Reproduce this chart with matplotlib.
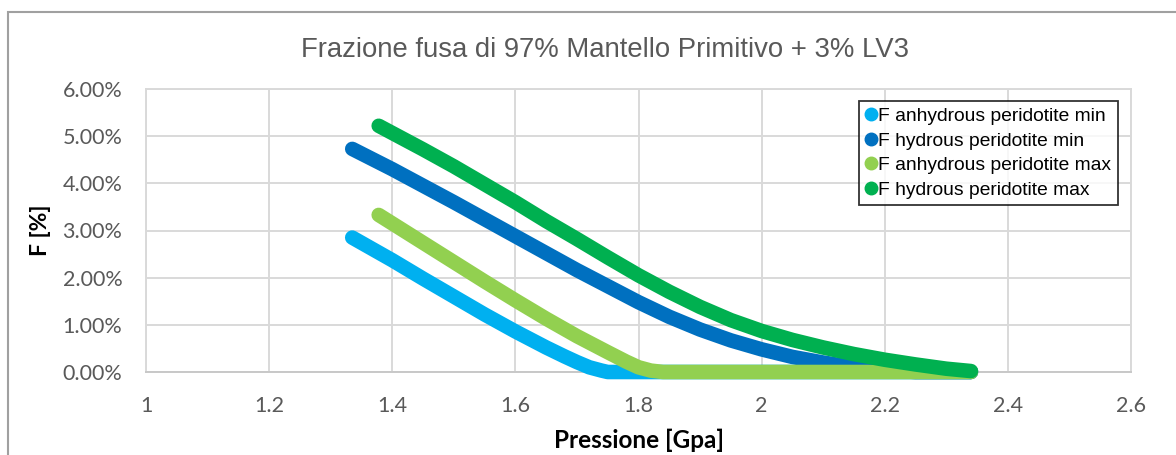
import matplotlib
matplotlib.use("Agg")
import matplotlib.pyplot as plt
from matplotlib.lines import Line2D
from matplotlib.patches import Rectangle

# Pressure [GPa] and melt fraction [%] for each peridotite case
p_anhy_min = [1.335, 1.40, 1.45, 1.50, 1.55, 1.60, 1.65, 1.68, 1.70, 1.72, 1.74, 1.75, 2.00, 2.34]
f_anhy_min = [2.85, 2.37, 1.98, 1.60, 1.22, 0.86, 0.52, 0.33, 0.21, 0.10, 0.03, 0.00, 0.00, 0.00]

p_hy_min = [1.335, 1.40, 1.45, 1.50, 1.55, 1.60, 1.65, 1.70, 1.75, 1.80, 1.85, 1.90,
            1.95, 2.00, 2.05, 2.10, 2.15, 2.20, 2.25, 2.34]
f_hy_min = [4.73, 4.30, 3.95, 3.60, 3.24, 2.88, 2.52, 2.16, 1.82, 1.48, 1.17, 0.90,
            0.67, 0.48, 0.32, 0.20, 0.10, 0.04, 0.00, 0.00]

p_anhy_max = [1.378, 1.40, 1.45, 1.50, 1.55, 1.60, 1.65, 1.70, 1.75, 1.78, 1.80, 1.82,
              1.84, 2.00, 2.34]
f_anhy_max = [3.33, 3.15, 2.74, 2.33, 1.92, 1.52, 1.13, 0.76, 0.42, 0.22, 0.10, 0.03,
              0.00, 0.00, 0.00]

p_hy_max = [1.378, 1.45, 1.50, 1.55, 1.60, 1.65, 1.70, 1.75, 1.80, 1.85, 1.90, 1.95,
            2.00, 2.05, 2.10, 2.15, 2.20, 2.25, 2.30, 2.34]
f_hy_max = [5.22, 4.72, 4.36, 3.98, 3.60, 3.20, 2.82, 2.43, 2.05, 1.70, 1.38, 1.10,
            0.87, 0.68, 0.52, 0.38, 0.26, 0.16, 0.07, 0.02]

series_labels = ["F anhydrous peridotite min", "F hydrous peridotite min",
                 "F anhydrous peridotite max", "F hydrous peridotite max"]
series_colors = ["#00B0F0", "#0070C0", "#92D050", "#00B050"]

x_ticks = [1, 1.2, 1.4, 1.6, 1.8, 2, 2.2, 2.4, 2.6]
x_tick_labels = ["1", "1.2", "1.4", "1.6", "1.8", "2", "2.2", "2.4", "2.6"]
y_ticks = [0, 1, 2, 3, 4, 5, 6]
y_tick_labels = ["0.00%", "1.00%", "2.00%", "3.00%", "4.00%", "5.00%", "6.00%"]

title = "Frazione fusa di 97% Mantello Primitivo + 3% LV3"
x_label = "Pressione [Gpa]"
y_label = "F [%]"

W, H = 1176, 455
fig = plt.figure(figsize=(W / 100, H / 100), dpi=100)
fig.patch.set_facecolor("white")

# chart-area border (runs off the right and bottom edges)
fig.patches.append(Rectangle((7.5 / W, -0.05), 1.1, 1 - 11.5 / H + 0.05,
                             transform=fig.transFigure, fill=False,
                             edgecolor="#A0A0A0", linewidth=1.5))

left, right, top, bottom = 146, 1131, 89, 372
ax = fig.add_axes([left / W, 1 - bottom / H, (right - left) / W, (bottom - top) / H])

grid_c = "#D9D9D9"
ax.set_xlim(1, 2.6)
ax.set_ylim(0, 6)
ax.set_xticks(x_ticks)
ax.set_xticklabels(x_tick_labels)
ax.set_yticks(y_ticks)
ax.set_yticklabels(y_tick_labels)
ax.grid(True, color=grid_c, linewidth=1.4)
ax.set_axisbelow(True)
for s in ax.spines.values():
    s.set_color(grid_c)
    s.set_linewidth(1.4)
ax.spines["bottom"].set_color("#C8C8C8")
ax.tick_params(axis="y", length=0, labelsize=15.5, colors="#595959", pad=17)
ax.tick_params(axis="x", length=0, labelsize=15.5, colors="#595959", pad=17)
for lab in ax.get_xticklabels() + ax.get_yticklabels():
    lab.set_family("Lato")

data = [(p_anhy_min, f_anhy_min), (p_hy_min, f_hy_min),
        (p_anhy_max, f_anhy_max), (p_hy_max, f_hy_max)]
for (px, fy), c in zip(data, series_colors):
    ax.plot(px, fy, color=c, linewidth=10.5, solid_capstyle="round",
            solid_joinstyle="round", clip_on=False, zorder=3)

handles = [Line2D([], [], linestyle="none", marker="o", markersize=9,
                  markerfacecolor=c, markeredgecolor=c) for c in series_colors]
leg = ax.legend(handles, series_labels, loc="upper right",
                bbox_to_anchor=(0.987, 0.958), borderaxespad=0,
                fancybox=False, frameon=True, handlelength=0.5,
                handletextpad=0.15, borderpad=0.35, labelspacing=0.36,
                prop={"family": "Liberation Sans", "size": 13.9})
leg.get_frame().set_edgecolor("black")
leg.get_frame().set_linewidth(1.3)
leg.set_zorder(5)

fig.text(605 / W, 1 - 50 / H, title, ha="center", va="center",
         fontsize=19.8, color="#595959", family="Liberation Sans")
fig.text((left + right) / 2 / W, 1 - 440 / H, x_label, ha="center", va="center",
         fontsize=17.5, fontweight="bold", color="black", family="Lato")
fig.text(40 / W, 1 - 230 / H, y_label, ha="center", va="center", rotation=90,
         fontsize=16.5, fontweight="bold", color="black", family="Lato")

fig.savefig("out.png", dpi=100)
